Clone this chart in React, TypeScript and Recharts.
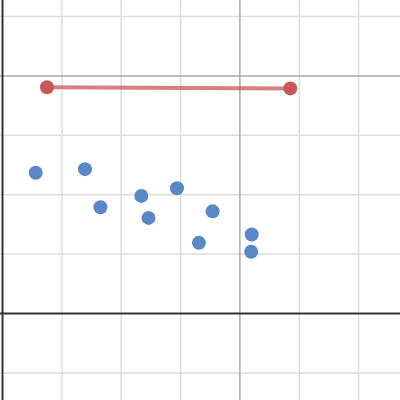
import React from 'react';
import { ScatterChart, Scatter, XAxis, YAxis, ReferenceLine } from 'recharts';

// one grid step is ~59.4px; origin sits at about (2.5, 313.5)
const xDomain = [-0.042, 6.698];
const yDomain = [-1.456, 5.278];

const minorX = [1, 2, 3, 5, 6];
const minorY = [-1, 1, 2, 3, 5];
const majorX = [4];
const majorY = [4];

const segmentPoints = [
  { x: 0.75, y: 3.81 },
  { x: 4.85, y: 3.79 },
];

const bluePoints = [
  { x: 0.56, y: 2.37 },
  { x: 1.39, y: 2.43 },
  { x: 1.65, y: 1.79 },
  { x: 2.34, y: 1.98 },
  { x: 2.46, y: 1.61 },
  { x: 2.94, y: 2.11 },
  { x: 3.54, y: 1.72 },
  { x: 3.31, y: 1.19 },
  { x: 4.2, y: 1.33 },
  { x: 4.19, y: 1.04 },
];

const dot = (color: string) => (props: any) => (
  <circle cx={props.cx} cy={props.cy} r={7} fill={color} />
);

export default function App() {
  return (
    <div style={{ position: 'absolute', left: 0, top: 0, background: '#fff' }}>
      <ScatterChart width={400} height={400} margin={{ top: 0, right: 0, bottom: 0, left: 0 }}>
        <XAxis type="number" dataKey="x" domain={xDomain} hide allowDataOverflow />
        <YAxis type="number" dataKey="y" domain={yDomain} hide allowDataOverflow />
        {minorX.map((v) => (
          <ReferenceLine key={`mx${v}`} x={v} stroke="#dddddd" strokeWidth={1.5} />
        ))}
        {minorY.map((v) => (
          <ReferenceLine key={`my${v}`} y={v} stroke="#dddddd" strokeWidth={1.5} />
        ))}
        {majorX.map((v) => (
          <ReferenceLine key={`Mx${v}`} x={v} stroke="#aaaaaa" strokeWidth={1.5} />
        ))}
        {majorY.map((v) => (
          <ReferenceLine key={`My${v}`} y={v} stroke="#aaaaaa" strokeWidth={1.5} />
        ))}
        <ReferenceLine x={0} stroke="#333333" strokeWidth={2} />
        <ReferenceLine y={0} stroke="#333333" strokeWidth={2} />
        <Scatter
          data={segmentPoints}
          line={{ stroke: '#c7494b', strokeWidth: 4, strokeOpacity: 0.7 }}
          shape={dot('#c9575a')}
          isAnimationActive={false}
        />
        <Scatter data={bluePoints} shape={dot('#5b87c5')} isAnimationActive={false} />
      </ScatterChart>
    </div>
  );
}
